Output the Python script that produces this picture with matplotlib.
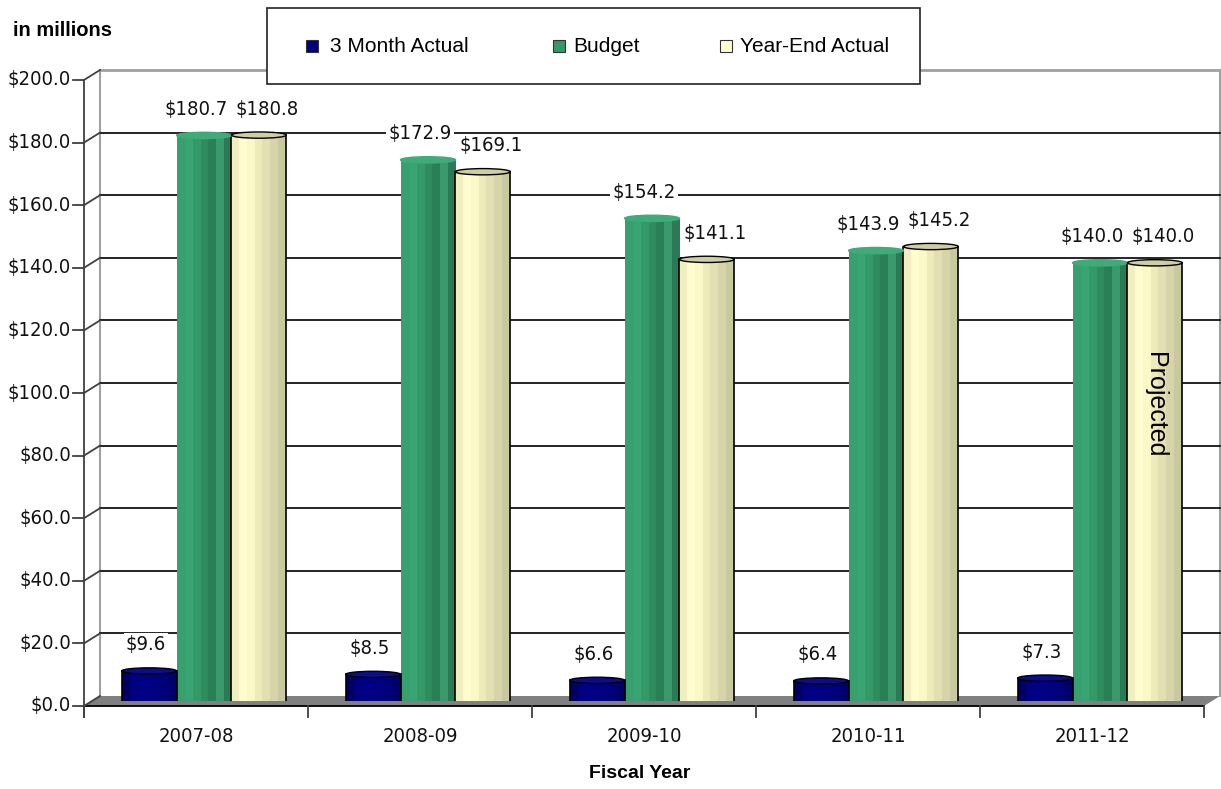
import numpy as np
import matplotlib.pyplot as plt
from matplotlib.patches import Rectangle, Ellipse, Polygon
from matplotlib.lines import Line2D
from matplotlib.transforms import IdentityTransform, blended_transform_factory
from matplotlib.colors import to_rgb

years = ['2007-08', '2008-09', '2009-10', '2010-11', '2011-12']
three_month = [9.6, 8.5, 6.6, 6.4, 7.3]
budget = [180.7, 172.9, 154.2, 143.9, 140.0]
year_end = [180.8, 169.1, 141.1, 145.2, 140.0]
series_names = ['3 Month Actual', 'Budget', 'Year-End Actual']
y_ticks = [0, 20, 40, 60, 80, 100, 120, 140, 160, 180, 200]

# styles
main_col = ['#000080', '#339966', '#ffffcc']
strips = [['#000068', '#000080', '#000084', '#000080', '#000078', '#00006a'],
          ['#37a06e', '#3aa372', '#339966', '#2f8c5e', '#2b7f56', '#3a9a6c', '#2c7a55'],
          ['#f2efbe', '#fffdd0', '#fbf8c8', '#eeebbb', '#e2e0b2', '#d6d4a8', '#cac89e']]
tops = ['#0c0c8c', '#40aa7a', '#cfcda6']
edges = ['#000000', None, '#000000']
lab_dx = [-3, -8, 8]

W, H = 1221, 789
plt.rcParams['font.family'] = ['Liberation Sans', 'DejaVu Sans']
narrow = dict(family='DejaVu Sans', fontstretch='condensed', fontsize=14.5)

fig = plt.figure(figsize=(W / 100, H / 100), dpi=100)
ax = fig.add_axes([92 / W, 1 - 701 / H, 1120 / W, 626 / H])
ax.set_xlim(-0.5, 4.5)
ax.set_ylim(0, 200)
ax.set_autoscale_on(False)
ax.axis('off')
ID = IdentityTransform()


def P(x, y, dx=0, dy=0):
    X, Y = ax.transData.transform((x, y))
    return X + dx, Y - dy


def line(p, q, **kw):
    ax.add_line(Line2D([p[0], q[0]], [p[1], q[1]], transform=ID, clip_on=False, **kw))


# floor
floor = [P(-0.5, 0, 8, -5), P(4.5, 0, 8, -5), P(4.5, 0, -8, 5), P(-0.5, 0, -8, 5)]
ax.add_patch(Polygon(floor, closed=True, facecolor='#808080', edgecolor='none',
                     transform=ID, clip_on=False, zorder=1))

# back wall
line(P(-0.5, 0, 8, -5), P(-0.5, 200, 8, -5), color='#a0a0a0', lw=1.5, zorder=1)
line(P(4.5, 0, 8, -5), P(4.5, 200, 8, -5), color='#a0a0a0', lw=1.5, zorder=1)
line(P(-0.5, 200, 8, -5), P(4.5, 200, 8, -5), color='#a0a0a0', lw=2, zorder=1)
for v in y_ticks[1:-1]:
    line(P(-0.5, v, 8, -5), P(4.5, v, 8, -5), color='black', lw=1.2, zorder=1)

# front axes
line(P(-0.5, 0, -8, 16), P(-0.5, 200, -8, 5), color='#404040', lw=1.3, zorder=2)
line(P(-0.5, 0, -8, 5), P(4.5, 0, -8, 5), color='black', lw=1.3, zorder=2)
for k in range(len(years) + 1):
    line(P(-0.5 + k, 0, -8, 5), P(-0.5 + k, 0, -8, 16), color='#404040', lw=1.3, zorder=2)
for v in y_ticks:
    fx, fy = P(-0.5, v, -8, 5)
    line((fx - 11, fy), (fx, fy), color='#404040', lw=1.3, zorder=2)
    line((fx, fy), P(-0.5, v, 8, -5), color='#404040', lw=1.3, zorder=2)
    ax.text(fx - 13, fy, f'${v:.1f}', transform=ID, ha='right', va='center',
            color='#111111', **narrow)

for i, yr in enumerate(years):
    x, y = P(i, 0, -8, 5)
    ax.text(x, y - 31, yr, transform=ID, ha='center', va='center',
            color='#111111', **narrow)

# bars
bw = 0.245
for s, vals in enumerate([three_month, budget, year_end]):
    grad = np.array([[to_rgb(c) for c in strips[s]]])
    for i, v in enumerate(vals):
        xc = i + (s - 1) * bw
        x0 = xc - bw / 2
        ax.add_patch(Ellipse((xc, 0), bw, 2.2, facecolor=strips[s][-2],
                             edgecolor=edges[s] or 'none', lw=1, zorder=3))
        ax.imshow(grad, extent=(x0, x0 + bw, 0, v), aspect='auto',
                  interpolation='nearest', zorder=3.5)
        if edges[s]:
            ax.plot([x0, x0], [0, v], color=edges[s], lw=1.2, zorder=4)
            ax.plot([x0 + bw, x0 + bw], [0, v], color=edges[s], lw=1.2, zorder=4)
        ax.add_patch(Ellipse((xc, v), bw, 2.0, facecolor=tops[s],
                             edgecolor=edges[s] or tops[s], lw=1, zorder=4.5))
        ax.annotate(f'${v:.1f}', (xc, v), xytext=(lab_dx[s] * 0.72, 26 * 0.72),
                    textcoords='offset points', ha='center', va='center',
                    color='#111111', zorder=6, **narrow,
                    bbox=dict(boxstyle='square,pad=0.1', fc='white', ec='none'))

ax.text(len(years) - 1 + bw, 0.473, 'Projected', rotation=270,
        transform=blended_transform_factory(ax.transData, ax.transAxes),
        ha='center', va='center', fontsize=18, color='black', zorder=6)

# legend
ax.add_patch(Rectangle((267, H - 84), 653, 76, facecolor='white', edgecolor='#222222',
                       lw=1.2, transform=ID, clip_on=False, zorder=7))
leg_sq = [306, 553, 720]
leg_tx = [330, 573, 740]
for s, name in enumerate(series_names):
    ax.add_patch(Rectangle((leg_sq[s], H - 52), 12, 12, facecolor=main_col[s],
                           edgecolor='#333333', lw=0.8, transform=ID,
                           clip_on=False, zorder=8))
    ax.text(leg_tx[s], H - 46, name, transform=ID, ha='left', va='center',
            fontsize=15, zorder=8)

fig.text(13 / W, 1 - 31 / H, 'in millions', ha='left', va='center',
         fontsize=14.5, fontweight='bold')
fig.text(640 / W, 1 - 773 / H, 'Fiscal Year', ha='center', va='center',
         fontsize=14, fontweight='bold')

fig.savefig('out.png', dpi=100)
